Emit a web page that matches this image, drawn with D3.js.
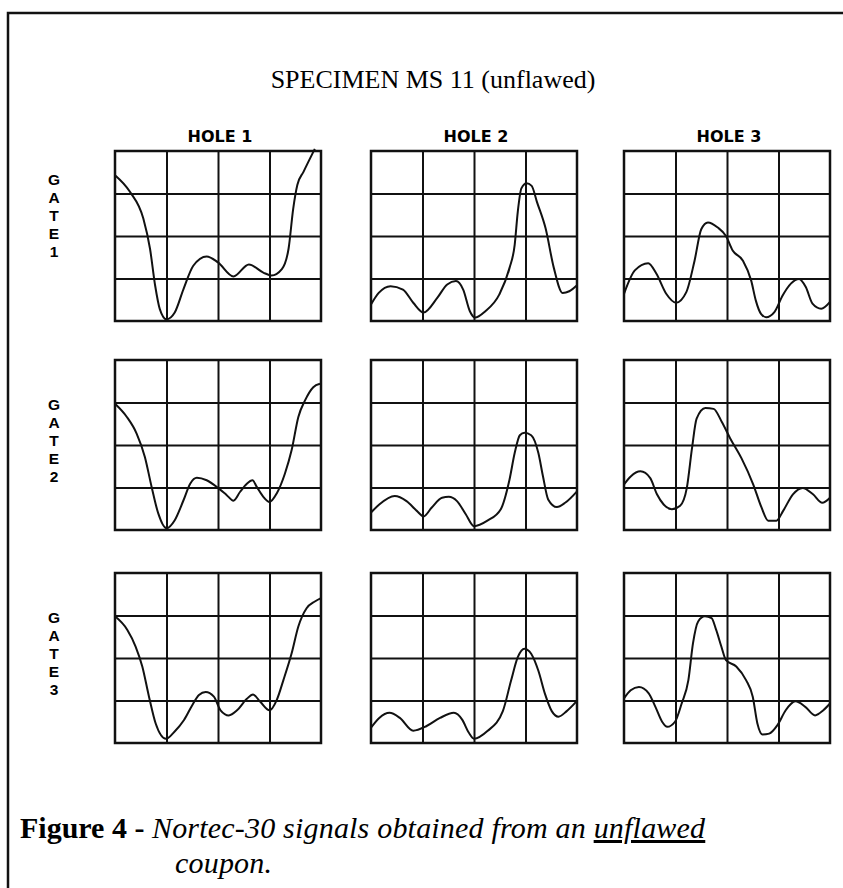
<!DOCTYPE html>
<html>
<head>
<meta charset="utf-8">
<script src="https://cdn.jsdelivr.net/npm/d3@7"></script>
<style>
  body { margin: 0; background: #fff; }
  svg { display: block; }
</style>
</head>
<body>
<div id="chart"></div>
<script>
var holes = ['HOLE 1', 'HOLE 2', 'HOLE 3'];
var gates = ['1', '2', '3'];
var divisions = [1, 2, 3];

// scope traces, [x, y] in screen divisions (0..4, y up)
var gate1Hole1 = [[0, 3.43], [0.29, 3.04], [0.55, 2.41], [0.68, 1.7], [0.78, 0.83], [0.87, 0.28], [1.0, 0.04],
  [1.16, 0.2], [1.33, 0.75], [1.52, 1.3], [1.78, 1.52], [2.0, 1.38], [2.3, 1.05], [2.6, 1.33], [2.88, 1.14],
  [3.04, 1.07], [3.24, 1.22], [3.37, 1.7], [3.46, 2.64], [3.54, 3.2], [3.66, 3.51], [3.88, 4.05]];
var gate1Hole2 = [[0, 0.39], [0.15, 0.66], [0.38, 0.82], [0.62, 0.74], [0.82, 0.43], [1.02, 0.2], [1.29, 0.55],
  [1.48, 0.86], [1.65, 0.94], [1.79, 0.74], [1.92, 0.23], [2.02, 0.08], [2.22, 0.23], [2.49, 0.62], [2.69, 1.25],
  [2.79, 1.79], [2.85, 2.57], [2.92, 3.12], [3.02, 3.24], [3.12, 3.18], [3.22, 2.81], [3.39, 2.18], [3.55, 1.25],
  [3.72, 0.66], [3.85, 0.7], [4.0, 0.84]];
var gate1Hole3 = [[0, 0.64], [0.21, 1.19], [0.47, 1.36], [0.63, 1.11], [0.82, 0.64], [1.01, 0.43], [1.21, 0.68],
  [1.37, 1.42], [1.5, 2.16], [1.63, 2.32], [1.82, 2.2], [1.98, 2.0], [2.11, 1.66], [2.31, 1.42], [2.47, 0.95],
  [2.56, 0.48], [2.66, 0.17], [2.76, 0.09], [2.92, 0.21], [3.08, 0.6], [3.24, 0.88], [3.4, 0.99], [3.53, 0.8],
  [3.66, 0.41], [3.83, 0.29], [4.0, 0.45]];
var gate2Hole1 = [[0, 2.97], [0.23, 2.66], [0.42, 2.27], [0.58, 1.72], [0.71, 1.02], [0.84, 0.39], [1.0, 0.04],
  [1.16, 0.23], [1.33, 0.7], [1.46, 1.09], [1.59, 1.23], [1.78, 1.17], [2.01, 0.98], [2.17, 0.82], [2.3, 0.69],
  [2.43, 0.9], [2.56, 1.09], [2.67, 1.17], [2.75, 1.02], [2.88, 0.78], [3.0, 0.66], [3.14, 0.86], [3.3, 1.33],
  [3.43, 1.88], [3.56, 2.66], [3.69, 3.05], [3.85, 3.36], [3.98, 3.44]];
var gate2Hole2 = [[0, 0.41], [0.16, 0.6], [0.46, 0.8], [0.69, 0.68], [0.89, 0.45], [1.02, 0.32], [1.18, 0.53],
  [1.38, 0.76], [1.51, 0.78], [1.67, 0.68], [1.84, 0.37], [2.0, 0.09], [2.26, 0.22], [2.52, 0.49], [2.69, 1.19],
  [2.79, 1.81], [2.89, 2.23], [2.98, 2.29], [3.11, 2.23], [3.25, 1.81], [3.34, 1.26], [3.44, 0.72], [3.61, 0.54],
  [3.77, 0.64], [4.0, 0.91]];
var gate2Hole3 = [[0, 1.07], [0.13, 1.26], [0.32, 1.38], [0.51, 1.22], [0.64, 0.84], [0.77, 0.6], [0.93, 0.49],
  [1.09, 0.57], [1.22, 0.99], [1.32, 1.92], [1.41, 2.62], [1.58, 2.87], [1.74, 2.85], [1.9, 2.54], [2.06, 2.16],
  [2.28, 1.69], [2.51, 1.07], [2.67, 0.53], [2.8, 0.22], [2.96, 0.22], [3.09, 0.45], [3.28, 0.84], [3.47, 0.99],
  [3.67, 0.84], [3.85, 0.64], [4.0, 0.76]];
var gate3Hole1 = [[0, 2.98], [0.24, 2.66], [0.4, 2.27], [0.53, 1.8], [0.66, 1.09], [0.79, 0.46], [0.99, 0.1],
  [1.15, 0.26], [1.34, 0.54], [1.5, 0.89], [1.63, 1.13], [1.76, 1.2], [1.92, 1.09], [2.05, 0.77], [2.21, 0.65],
  [2.37, 0.77], [2.56, 1.04], [2.68, 1.14], [2.82, 0.97], [3.0, 0.77], [3.14, 1.01], [3.27, 1.48], [3.43, 2.11],
  [3.56, 2.74], [3.72, 3.17], [3.88, 3.33], [4.0, 3.41]];
var gate3Hole2 = [[0, 0.36], [0.16, 0.59], [0.36, 0.71], [0.56, 0.59], [0.82, 0.29], [1.08, 0.4], [1.34, 0.59],
  [1.61, 0.71], [1.77, 0.55], [1.9, 0.24], [2.0, 0.1], [2.26, 0.28], [2.56, 0.75], [2.72, 1.47], [2.85, 2.02],
  [2.98, 2.22], [3.11, 2.1], [3.25, 1.7], [3.38, 1.15], [3.51, 0.75], [3.64, 0.62], [3.8, 0.75], [4.0, 0.99]];
var gate3Hole3 = [[0, 1.05], [0.13, 1.24], [0.29, 1.32], [0.48, 1.17], [0.61, 0.85], [0.74, 0.5], [0.84, 0.38],
  [0.99, 0.5], [1.12, 0.93], [1.25, 1.48], [1.34, 2.35], [1.44, 2.86], [1.57, 2.98], [1.7, 2.94], [1.79, 2.66],
  [1.89, 2.27], [1.98, 1.95], [2.18, 1.8], [2.37, 1.48], [2.5, 1.09], [2.59, 0.46], [2.69, 0.2], [2.82, 0.22],
  [2.98, 0.42], [3.14, 0.77], [3.33, 0.98], [3.52, 0.85], [3.71, 0.65], [3.87, 0.77], [4.0, 0.93]];

var traces = [
  [gate1Hole1, gate1Hole2, gate1Hole3],
  [gate2Hole1, gate2Hole2, gate2Hole3],
  [gate3Hole1, gate3Hole2, gate3Hole3]
];

var width = 843, height = 888;
var colX = [115, 371, 624];
var rowY = [151, 360, 573];
var panelW = 206, panelH = 170;
var gateTop = [173, 398, 611];

var svg = d3.select('#chart')
  .append('svg')
  .attr('width', width)
  .attr('height', height);

// page frame
svg.append('path')
  .attr('d', 'M8,' + height + 'V13H' + width)
  .attr('fill', 'none')
  .attr('stroke', '#111')
  .attr('stroke-width', 2.5);

svg.append('text')
  .attr('x', 433)
  .attr('y', 88)
  .attr('text-anchor', 'middle')
  .style('font-family', '"Liberation Serif", "Times New Roman", serif')
  .style('font-size', '26px')
  .text('SPECIMEN MS 11 (unflawed)');

svg.selectAll('.holeLabel')
  .data(holes)
  .enter().append('text')
  .attr('class', 'holeLabel')
  .attr('x', function (d, i) { return colX[i] + panelW / 2 + 2; })
  .attr('y', 142)
  .attr('text-anchor', 'middle')
  .style('font-family', '"DejaVu Sans", Arial, sans-serif')
  .style('font-weight', 'bold')
  .style('font-size', '16px')
  .text(function (d) { return d; });

gates.forEach(function (g, r) {
  var letters = ('GATE' + g).split('');
  svg.selectAll('.gate' + g)
    .data(letters)
    .enter().append('text')
    .attr('class', 'gate' + g)
    .attr('x', 54)
    .attr('y', function (d, i) { return gateTop[r] + 12 + i * 18; })
    .attr('text-anchor', 'middle')
    .style('font-family', '"Liberation Sans", Arial, sans-serif')
    .style('font-weight', 'bold')
    .style('font-size', '15.5px')
    .text(function (d) { return d; });
});

var x = d3.scaleLinear().domain([0, 4]).range([0, panelW]);
var y = d3.scaleLinear().domain([0, 4]).range([panelH, 0]);

var line = d3.line()
  .x(function (d) { return x(d[0]); })
  .y(function (d) { return y(d[1]); })
  .curve(d3.curveMonotoneX);

traces.forEach(function (row, r) {
  row.forEach(function (trace, c) {
    var g = svg.append('g')
      .attr('transform', 'translate(' + colX[c] + ',' + rowY[r] + ')');

    g.append('g')
      .attr('class', 'vgrid')
      .attr('transform', 'translate(0,' + panelH + ')')
      .call(d3.axisBottom(x).tickValues(divisions).tickSizeInner(-panelH).tickSizeOuter(0).tickFormat(''));

    g.append('g')
      .attr('class', 'hgrid')
      .call(d3.axisLeft(y).tickValues(divisions).tickSizeInner(-panelW).tickSizeOuter(0).tickFormat(''));

    g.selectAll('.domain').remove();
    g.selectAll('.tick line')
      .attr('stroke', '#111')
      .attr('stroke-width', 2);

    g.append('rect')
      .attr('width', panelW)
      .attr('height', panelH)
      .attr('fill', 'none')
      .attr('stroke', '#111')
      .attr('stroke-width', 2.5);

    g.append('path')
      .datum(trace)
      .attr('d', line)
      .attr('fill', 'none')
      .attr('stroke', '#111')
      .attr('stroke-width', 2);
  });
});

// caption
var caption = svg.append('text')
  .attr('x', 20)
  .attr('y', 838)
  .style('font-family', '"Liberation Serif", "Times New Roman", serif')
  .style('font-size', '30px');

caption.append('tspan')
  .style('font-weight', 'bold')
  .text('Figure 4 - ');
caption.append('tspan')
  .style('font-style', 'italic')
  .style('letter-spacing', '0.2px')
  .text('Nortec-30 signals obtained from an ');
caption.append('tspan')
  .style('font-style', 'italic')
  .style('letter-spacing', '0.2px')
  .style('text-decoration', 'underline')
  .text('unflawed');

svg.append('text')
  .attr('x', 175)
  .attr('y', 873)
  .style('font-family', '"Liberation Serif", "Times New Roman", serif')
  .style('font-size', '30px')
  .style('font-style', 'italic')
  .style('letter-spacing', '0.2px')
  .text('coupon.');
</script>
</body>
</html>
